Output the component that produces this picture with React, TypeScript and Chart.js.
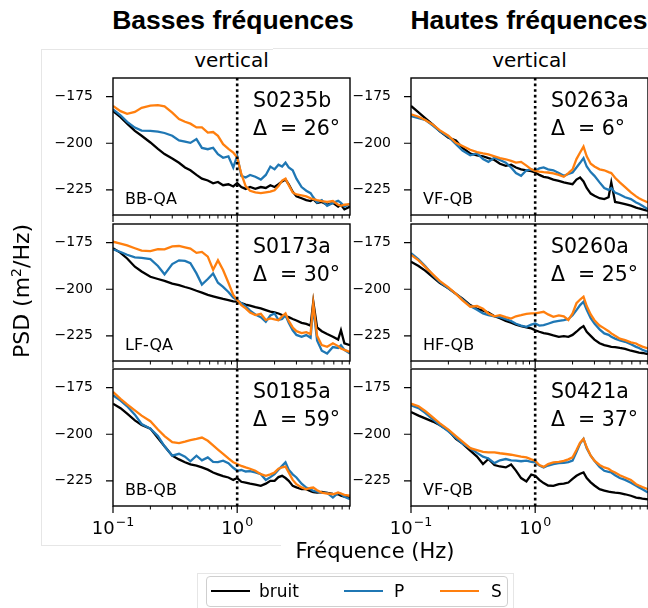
import React, { useEffect, useRef } from "react";
import { Chart, registerables } from "chart.js";

Chart.register(...registerables);

// ---------- data ----------
const FREQ = [0.1, 0.115, 0.13, 0.15, 0.17, 0.2, 0.23, 0.26, 0.3, 0.34, 0.38, 0.42, 0.47, 0.52, 0.58, 0.64, 0.7, 0.77, 0.85, 0.93, 1.0, 1.08, 1.17, 1.27, 1.4, 1.55, 1.7, 1.85, 2.0, 2.15, 2.3, 2.45, 2.6, 2.8, 3.0, 3.3, 3.6, 3.9, 4.1, 4.4, 4.8, 5.3, 5.9, 6.5, 6.85, 7.3, 8.1];

const S0235B_BRUIT = [-182.7, -186, -189.5, -193.4, -196, -199.6, -203, -205.8, -208.2, -210.5, -213, -214.5, -217, -219, -220, -221.5, -220.8, -222.5, -222, -223.2, -221.4, -223.5, -224.5, -223.5, -224.5, -223.5, -224, -222.5, -223.5, -222, -220.5, -219.5, -222, -226, -228.5, -229.5, -230.5, -231, -230, -232, -231.5, -233, -232, -234, -233, -235.5, -234];
const S0235B_P = [-181.8, -185, -188.5, -191.6, -193.2, -193.4, -193.8, -194.5, -196, -198.5, -199.2, -199.8, -197.8, -202.5, -203.2, -202.4, -205.9, -207.8, -207, -213, -206.8, -217.5, -218.4, -217, -218, -219.5, -217, -212.5, -214, -211.5, -212.5, -210.4, -213, -214.5, -219, -223.5, -225.5, -226.8, -229, -231.8, -230.5, -233.6, -232, -230.9, -232, -234, -232.5];
const S0235B_S = [-180, -182.8, -184.2, -183.2, -181, -179.8, -179.6, -180.2, -183.6, -187, -188.5, -189.5, -191.5, -191.5, -194.3, -194, -196, -200.5, -203, -205, -207.7, -216.5, -223, -225.5, -226.4, -226.8, -226.4, -226, -225.2, -223, -220, -219, -222.5, -226.4, -227.5, -228, -228.5, -229.5, -230, -230.5, -231, -231.5, -231, -233, -233.6, -233, -232.7];

const S0263A_BRUIT = [-180, -183.5, -186.5, -190, -193.5, -197, -198.5, -202.5, -205.5, -206.5, -207, -208, -209, -211, -212.1, -211.5, -213, -214, -214.5, -215, -215.7, -217, -218, -218.5, -219.5, -220.2, -221, -221.5, -222, -219.5, -218.4, -220.5, -224, -227, -228.2, -229.5, -230, -229, -221, -231.5, -232, -232.7, -233.5, -234.5, -235, -235.5, -236.3];
const S0263A_P = [-185.4, -186.5, -187.5, -190.5, -193.5, -196.5, -200.5, -204, -206.5, -205.5, -208.5, -210, -207.7, -209, -210.4, -213, -216, -217.5, -214.5, -214, -214.8, -213.5, -213, -214, -214.5, -216, -217.5, -216.5, -215.7, -213, -210.5, -208, -212.5, -215.5, -217.5, -221, -224, -225, -224, -226.5, -227.5, -229, -230, -231.8, -232.5, -233.5, -235.5];
const S0263A_S = [-184.5, -185.8, -187.5, -190, -193, -196, -199.8, -201.5, -203.5, -204.8, -205.5, -206, -207, -208, -208.6, -209.5, -210.4, -210, -212, -214, -214.8, -215.2, -215.5, -215.7, -216.2, -217, -218, -216, -214, -208.5, -205, -201.8, -207, -211, -212.5, -214, -214.5, -215.5, -216, -218.5, -221, -223.5, -226.4, -228.5, -229.5, -230.5, -231.8];

const S0173A_BRUIT = [-178, -180.5, -183.5, -187.9, -190.5, -193.3, -194.5, -195.5, -197, -197.8, -198.8, -199.6, -200.8, -201.8, -203, -203.8, -204.5, -205.2, -205.8, -206.5, -206.7, -207.5, -208.2, -208.8, -209.6, -210.3, -211.2, -212, -212.4, -213, -213.8, -214.5, -215, -216, -216.8, -218, -218.6, -219.5, -206.7, -220.5, -222.5, -224, -225.5, -227, -222, -229, -230];
const S0173A_P = [-178.6, -180, -181.5, -182.9, -183.2, -183.8, -187.5, -192, -186.5, -184.5, -184.8, -186, -191.5, -197.5, -194.5, -191.5, -196.5, -198.7, -201.5, -204.5, -205.8, -207.5, -209.2, -211.5, -213.5, -215, -217.5, -214, -213, -216.5, -216, -214, -218, -222, -224.5, -225.5, -224.6, -226, -209.4, -227.5, -233, -234.5, -231, -231.5, -230, -232.5, -234.5];
const S0173A_S = [-174.5, -175.5, -176.5, -178, -179.3, -179.5, -178.5, -178.6, -177, -176.8, -177.5, -178.2, -180.5, -180, -182.5, -189.5, -184.5, -189.7, -196.5, -203, -205.8, -208.5, -210.3, -212.5, -213.9, -213.2, -216.5, -215.7, -216.2, -216.6, -214.5, -213, -217, -220.5, -222.5, -223.5, -223, -224, -207.6, -225, -230, -230.9, -229, -230.5, -231.8, -232.5, -233.6];

const S0260A_BRUIT = [-185.2, -187.5, -190, -193.5, -196.5, -199.5, -202.5, -205, -208.5, -210.5, -211.5, -212.5, -214.5, -215.5, -217, -218, -219, -219.8, -220.5, -221, -222, -222.8, -223.5, -224, -224.8, -225.5, -225.2, -225.5, -224.5, -222.8, -221, -219.8, -222.8, -225, -227, -229, -230, -230.5, -230.9, -231, -231.5, -232, -233, -233.6, -234, -234.2, -234.8];
const S0260A_P = [-180.7, -184, -187.5, -192.5, -196, -199.5, -202.5, -205.5, -209, -211, -213, -213.9, -214.5, -215, -216, -217, -218.5, -219.5, -220.2, -219, -218.4, -219.5, -219.3, -218.5, -217.5, -217, -216.6, -216, -214, -211.2, -208.5, -206.7, -211, -215.5, -218.4, -221.5, -223.7, -224.5, -225.5, -226.5, -227.5, -228.2, -229.5, -230.9, -231.5, -232.5, -233.6];
const S0260A_S = [-181.6, -184.5, -188, -192, -195.5, -199, -202.5, -206, -209.4, -209, -210.5, -213, -214.5, -213.9, -215, -215.7, -214.5, -213.9, -213.2, -213, -213, -212.5, -212.1, -213.5, -214.8, -214, -214.5, -216.5, -213, -207.5, -205.5, -204, -209, -213.5, -216.6, -219.5, -221, -222.5, -223.7, -225, -226.5, -227.3, -228.5, -229.1, -230, -230.8, -231.8];

const S0185A_BRUIT = [-183.6, -186, -189, -192.6, -195, -197, -202, -206.5, -211.5, -213.5, -215, -216.2, -216.8, -217.8, -219, -220.5, -221.5, -222.5, -223.2, -224.5, -223.5, -225.5, -225.9, -226.5, -227, -227.7, -226.5, -225, -225, -223, -222.3, -223.5, -225, -227.7, -228.5, -229.5, -229.5, -230.5, -231, -231.3, -231, -231.5, -232, -232.2, -233, -233.5, -234];
const S0185A_P = [-179.1, -182, -185, -189.5, -194.5, -197, -201, -206.5, -211.5, -210.5, -212, -214.5, -211.5, -214, -212.4, -214.8, -215, -214.2, -215.5, -218, -219.6, -219.2, -220, -219.8, -220.5, -221.4, -224.5, -223, -221.4, -219, -217, -215.1, -219, -221.5, -223.2, -226.5, -228.6, -229.5, -230.4, -230.8, -231.3, -231.5, -234, -231.5, -232, -233.5, -234.9];
const S0185A_S = [-177.3, -181, -184, -187.2, -190, -193, -197.5, -201, -204.3, -204.8, -204, -203.2, -202.5, -201.8, -203.5, -206, -208.2, -210.5, -213, -215, -216, -217, -217.8, -218.5, -219.6, -221.4, -222.3, -221.5, -220.5, -218.5, -217.8, -217.4, -220.5, -224.5, -226.8, -228.5, -229.5, -228.8, -228.6, -230, -231.3, -231.8, -232.2, -231.3, -231.8, -232.5, -233];

const S0421A_BRUIT = [-188.1, -190, -191.5, -193.2, -195, -198, -202.5, -205, -208.8, -212, -216, -213.3, -216.5, -217.3, -217.8, -216.2, -219.5, -223.5, -225.3, -221.6, -222.3, -224.5, -226.2, -227.5, -227.7, -226.8, -226.5, -225.9, -224, -222.3, -221.2, -220.5, -223.5, -225.8, -227.5, -229.5, -230.2, -230.8, -231, -231.3, -231.6, -232.2, -233, -234, -234.2, -234.5, -234.9];
const S0421A_P = [-184.5, -186, -188.5, -192, -195, -198.5, -202, -205, -207.5, -210, -212, -213, -215.5, -214, -213.3, -214, -214.2, -214.5, -214.2, -214.8, -215.1, -216.8, -217.8, -216.8, -216, -215.5, -215.3, -215, -214.2, -209.5, -205, -202.5, -207.5, -211.5, -214.2, -217.5, -219.6, -220.2, -220.5, -222, -223.5, -224.5, -226, -227.7, -228.5, -229.5, -231.3];
const S0421A_S = [-183.6, -185, -187.5, -191, -194, -197.5, -201, -204, -207.5, -208.5, -209.5, -209.7, -209.7, -210.2, -210.6, -211, -211.5, -212, -212.4, -213.5, -214.2, -216.5, -217.5, -216, -215.1, -214.8, -214.3, -213.5, -212.4, -208.5, -204.5, -202.5, -207, -211.5, -214.2, -216.5, -217.8, -218.5, -219.6, -220.5, -222, -223.2, -224.5, -226.8, -227.5, -228.3, -229.5];

const Y_TICKS = [-225, -200, -175];
const X_MAJOR = [0.1, 1];
const X_MINOR = [0.2, 0.3, 0.4, 0.5, 0.6, 0.7, 0.8, 0.9, 2, 3, 4, 5, 6, 7, 8];
const X_LABELS = [
  { v: 0.1, base: "10", exp: "\u22121" },
  { v: 1, base: "10", exp: "0" },
];
const SERIES_LABELS = ["bruit", "P", "S"];
const SERIES_COLORS = ["#000000", "#1f77b4", "#ff7f0e"];

const PANELS = [
  { name: "S0235b", delta: 26, station: "BB-QA", series: [S0235B_BRUIT, S0235B_P, S0235B_S] },
  { name: "S0263a", delta: 6, station: "VF-QB", series: [S0263A_BRUIT, S0263A_P, S0263A_S] },
  { name: "S0173a", delta: 30, station: "LF-QA", series: [S0173A_BRUIT, S0173A_P, S0173A_S] },
  { name: "S0260a", delta: 25, station: "HF-QB", series: [S0260A_BRUIT, S0260A_P, S0260A_S] },
  { name: "S0185a", delta: 59, station: "BB-QB", series: [S0185A_BRUIT, S0185A_P, S0185A_S] },
  { name: "S0421a", delta: 37, station: "VF-QB", series: [S0421A_BRUIT, S0421A_P, S0421A_S] },
];

// ---------- layout ----------
const COL_LEFT = [113, 411];
const ROW_TOP = [78, 224, 369];
const PLOT_W = 237;
const PLOT_H = 137;
const PAD_L = 72;
const PAD_T = 32;
const PAD_R = 4;
const PAD_B = 40;
const FONT = '"DejaVu Sans", sans-serif';
const TITLE_FONT = '"Liberation Sans", Arial, sans-serif';

const decorPlugin = {
  id: "panelDecor",
  afterDatasetsDraw(chart: any, _args: any, o: any) {
    const { ctx, chartArea: a } = chart;
    const xs = chart.scales.x;
    const ys = chart.scales.y;
    ctx.save();
    // dotted line at 1 Hz
    const x1 = xs.getPixelForValue(1);
    ctx.strokeStyle = "#000";
    ctx.lineWidth = 2.6;
    ctx.setLineDash([2.6, 3.0]);
    ctx.beginPath();
    ctx.moveTo(x1, a.top);
    ctx.lineTo(x1, a.bottom);
    ctx.stroke();
    ctx.setLineDash([]);
    // frame
    ctx.lineWidth = 1.4;
    ctx.strokeRect(a.left, a.top, a.right - a.left, a.bottom - a.top);
    // ticks
    ctx.lineWidth = 1.2;
    ctx.beginPath();
    for (const v of Y_TICKS) {
      const y = ys.getPixelForValue(v);
      ctx.moveTo(a.left - 7, y);
      ctx.lineTo(a.left, y);
    }
    for (const v of X_MAJOR) {
      const x = xs.getPixelForValue(v);
      ctx.moveTo(x, a.bottom);
      ctx.lineTo(x, a.bottom + 7);
    }
    ctx.stroke();
    ctx.lineWidth = 1.0;
    ctx.beginPath();
    for (const v of X_MINOR) {
      const x = xs.getPixelForValue(v);
      ctx.moveTo(x, a.bottom);
      ctx.lineTo(x, a.bottom + 3.5);
    }
    ctx.stroke();
    // x tick labels (bottom row only)
    ctx.fillStyle = "#000";
    ctx.textBaseline = "alphabetic";
    ctx.textAlign = "left";
    if (o.showX) {
      for (const l of X_LABELS) {
        const x = xs.getPixelForValue(l.v);
        ctx.font = `18px ${FONT}`;
        const wb = ctx.measureText(l.base).width;
        ctx.font = `12.6px ${FONT}`;
        const we = ctx.measureText(l.exp).width;
        const x0 = x - (wb + we + 1) / 2;
        ctx.font = `18px ${FONT}`;
        ctx.fillText(l.base, x0, a.bottom + 28);
        ctx.font = `12.6px ${FONT}`;
        ctx.fillText(l.exp, x0 + wb + 1, a.bottom + 20);
      }
    }
    // annotations
    ctx.font = `20.5px ${FONT}`;
    ctx.fillText(o.name, a.left + 140, a.top + 28.5);
    ctx.fillText(`\u0394  = ${o.delta}\u00b0`, a.left + 140, a.top + 57);
    ctx.font = `16px ${FONT}`;
    ctx.fillText(o.station, a.left + 12, a.top + 126);
    ctx.restore();
  },
};

function Panel({ idx }: { idx: number }) {
  const ref = useRef<HTMLCanvasElement | null>(null);
  const p = PANELS[idx];
  const row = Math.floor(idx / 2);
  const col = idx % 2;
  const W = PAD_L + PLOT_W + PAD_R;
  const H = PAD_T + PLOT_H + PAD_B;
  useEffect(() => {
    if (!ref.current) return;
    const chart = new Chart(ref.current, {
      type: "line",
      data: {
        datasets: p.series.map((vals, si) => ({
          label: SERIES_LABELS[si],
          data: FREQ.map((f, i) => ({ x: f, y: vals[i] })),
          borderColor: SERIES_COLORS[si],
          backgroundColor: SERIES_COLORS[si],
          borderWidth: 2.3,
          pointRadius: 0,
          tension: 0,
          fill: false,
          order: 3 - si,
        })),
      },
      options: {
        animation: false,
        responsive: false,
        maintainAspectRatio: false,
        devicePixelRatio: 1,
        events: [],
        layout: { padding: { left: 0, top: PAD_T, right: PAD_R, bottom: 0 } },
        plugins: {
          legend: { display: false },
          tooltip: { enabled: false },
          panelDecor: { name: p.name, delta: p.delta, station: p.station, showX: row === 2 },
        } as any,
        scales: {
          x: {
            type: "logarithmic",
            min: 0.1,
            max: 8.1,
            grid: { display: false, drawTicks: false },
            border: { display: false },
            ticks: { display: false },
            afterFit: (s: any) => {
              s.height = PAD_B;
            },
          },
          y: {
            type: "linear",
            min: -238.5,
            max: -165,
            grid: { display: false, drawTicks: false },
            border: { display: false },
            ticks: {
              color: "#000",
              font: { family: FONT, size: 14 },
              padding: 20,
              callback: (v: any) => "\u2212" + Math.abs(Number(v)),
            },
            afterBuildTicks: (s: any) => {
              s.ticks = Y_TICKS.map((v) => ({ value: v }));
            },
            afterFit: (s: any) => {
              s.width = PAD_L;
            },
          },
        },
      } as any,
      plugins: [decorPlugin],
    });
    return () => chart.destroy();
  }, [idx]);
  return (
    <canvas
      ref={ref}
      width={W}
      height={H}
      style={{
        position: "absolute",
        left: COL_LEFT[col] - PAD_L,
        top: ROW_TOP[row] - PAD_T,
        width: W,
        height: H,
      }}
    />
  );
}

function Txt({
  text,
  x,
  base,
  size,
  bold,
  family,
  align,
}: {
  text: string;
  x: number;
  base: number;
  size: number;
  bold?: boolean;
  family?: string;
  align?: "center" | "left";
}) {
  return (
    <div
      style={{
        position: "absolute",
        left: x,
        top: base - 0.846 * size,
        fontSize: size,
        lineHeight: `${size}px`,
        fontFamily: family || FONT,
        fontWeight: bold ? 700 : 400,
        whiteSpace: "pre",
        color: "#000",
        transform: align === "left" ? undefined : "translateX(-50%)",
      }}
    >
      {text}
    </div>
  );
}

function Rule({ x, y, w, h }: { x: number; y: number; w: number; h: number }) {
  return <div style={{ position: "absolute", left: x, top: y, width: w, height: h, background: "#e6e6e6" }} />;
}

export default function App() {
  const legendItems = [
    { line: 211, text: 259 },
    { line: 344, text: 394 },
    { line: 440, text: 491 },
  ];
  return (
    <div style={{ position: "absolute", left: 0, top: 0, width: 648, height: 608, background: "#fff", overflow: "hidden" }}>
      {/* faint composite frame lines */}
      <Rule x={41} y={49} w={232} h={1} />
      <Rule x={273} y={48} w={375} h={1} />
      <Rule x={41} y={49} w={1} h={496} />
      <Rule x={41} y={545} w={240} h={1} />
      <Rule x={197} y={573} w={317} h={1} />
      <Rule x={197} y={573} w={1} h={35} />
      <Rule x={513} y={573} w={1} h={35} />
      <Txt text="Basses fréquences" x={233} base={29} size={26.5} bold family={TITLE_FONT} />
      <Txt text="Hautes fréquences" x={529} base={29} size={26.5} bold family={TITLE_FONT} />
      <Txt text="vertical" x={231.5} base={67} size={20} />
      <Txt text="vertical" x={529.5} base={67} size={20} />
      {PANELS.map((_, i) => (
        <Panel key={i} idx={i} />
      ))}
      <div
        style={{
          position: "absolute",
          left: 22,
          top: 291,
          fontFamily: FONT,
          fontSize: 22,
          lineHeight: "22px",
          whiteSpace: "nowrap",
          transform: "translate(-50%, -50%) rotate(-90deg)",
        }}
      >
        PSD (m<sup style={{ fontSize: 14, lineHeight: 0 }}>2</sup>/Hz)
      </div>
      <Txt text="Fréquence (Hz)" x={375} base={558.3} size={21} />
      <div
        style={{
          position: "absolute",
          left: 206,
          top: 576,
          width: 302,
          height: 31,
          border: "1px solid #cfcfcf",
          borderRadius: 4,
          background: "#fff",
          boxSizing: "border-box",
        }}
      />
      {legendItems.map((it, i) => (
        <React.Fragment key={i}>
          <div
            style={{
              position: "absolute",
              left: it.line,
              top: 589.8,
              width: 39,
              height: 2.4,
              background: SERIES_COLORS[i],
            }}
          />
          <Txt text={SERIES_LABELS[i]} x={it.text} base={597.3} size={17} align="left" />
        </React.Fragment>
      ))}
    </div>
  );
}
